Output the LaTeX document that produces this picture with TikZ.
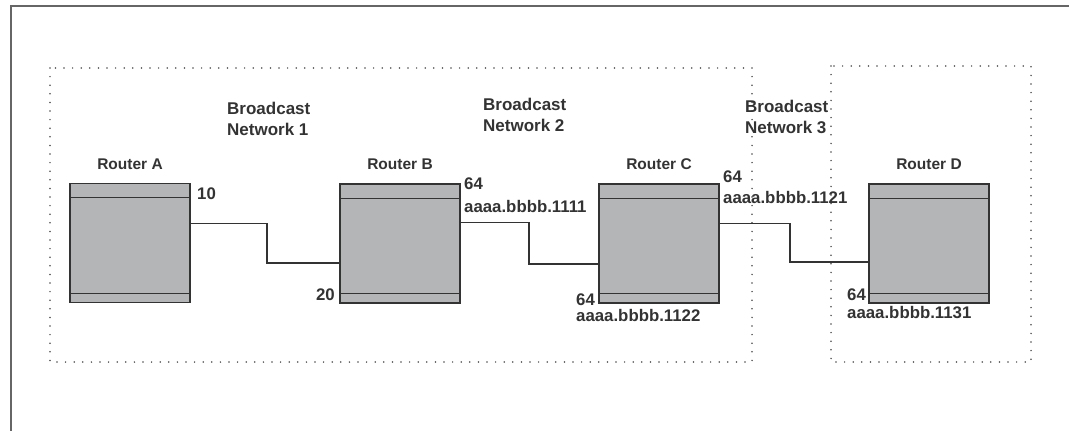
\documentclass[tikz,border=0pt]{standalone}
\usepackage{fontspec}
\setmainfont{Liberation Sans}
\usepackage{tikz}
\usetikzlibrary{positioning}
\definecolor{boxgray}{HTML}{B4B5B7}
\definecolor{inkgray}{HTML}{333333}

\begin{document}
\begin{tikzpicture}[x=1pt, y=-1pt,
  router/.style={draw=inkgray, line width=1.5pt, fill=boxgray, inner sep=0pt, minimum width=120pt, minimum height=119pt},
  rname/.style={inner sep=0pt, text=inkgray, font=\fontsize{15.5}{18}\selectfont\bfseries},
  net/.style={inner sep=0pt, anchor=north west, align=left, text=inkgray, font=\fontsize{17}{20.5}\selectfont\bfseries},
  port/.style={inner sep=0pt, text=inkgray, font=\fontsize{16.8}{19}\selectfont\bfseries},
  link/.style={draw=inkgray, line width=1.2pt},
  zone/.style={draw=black!70, line width=1.7pt, line cap=round, dash pattern=on 0pt off 8.6pt}
]
\useasboundingbox (0,0) rectangle (1069,431);
% outer frame
\draw[gray!80!black, line width=1.6pt] (11,440) |- (1080,6);
% broadcast zones
\draw[zone] (50,68) rectangle (752,362);
\draw[zone] (831,66) rectangle (1031,362);

% routers
\node[router] (ra) at (130,243) {};
\node[router] (rb) at (400,243.5) {};
\node[router] (rc) at (659,243.5) {};
\node[router] (rd) at (929,243.5) {};
\foreach \r in {ra,rb,rc,rd} {
  \draw[inkgray, line width=1pt] ([yshift=-15pt]\r.north west) -- ([yshift=-15pt]\r.north east);
  \draw[inkgray, line width=1pt] ([yshift=10pt]\r.south west) -- ([yshift=10pt]\r.south east);
}
\node[rname, above=13pt of ra] (ta) {Router A};
\node[rname, above=13pt of rb] (tb) {Router B};
\node[rname, above=13pt of rc] (tc) {Router C};
\node[rname, above=13pt of rd] (td) {Router D};

% networks
\node[net] (n1) at (227,102) {Broadcast\\Network 1};
\node[net] (n2) at (483,98) {Broadcast\\Network 2};
\node[net] (n3) at (745,100) {Broadcast\\Network 3};

% links
\coordinate (ab) at (267,263);
\coordinate (bc) at (529,264);
\coordinate (cd) at (790,262);
\draw[link] ([yshift=-41pt]ra.north east) -| (ab) -- (ab -| rb.west);
\draw[link] ([yshift=-39pt]rb.north east) -| (bc) -- (bc -| rc.west);
\draw[link] ([yshift=-40pt]rc.north east) -| (cd) -- (cd -| rd.west);

% ports
\node[port, anchor=base west] (pa) at (197,199) {10};
\node[port, anchor=base east] (pb1) at (335,300) {20};
\node[port, anchor=base west] (pb2) at (464,189) {64};
\node[port, anchor=base west] (ab2) at (464,212) {aaaa.bbbb.1111};
\node[port, anchor=base west] (pc1) at (723,182) {64};
\node[port, anchor=base west] (ac1) at (723,203) {aaaa.bbbb.1121};
\node[port, anchor=base west] (pc2) at (576,305) {64};
\node[port, anchor=base west] (ac2) at (576,321) {aaaa.bbbb.1122};
\node[port, anchor=base west] (pd) at (847,300) {64};
\node[port, anchor=base west] (ad) at (847,318) {aaaa.bbbb.1131};
\end{tikzpicture}
\end{document}
